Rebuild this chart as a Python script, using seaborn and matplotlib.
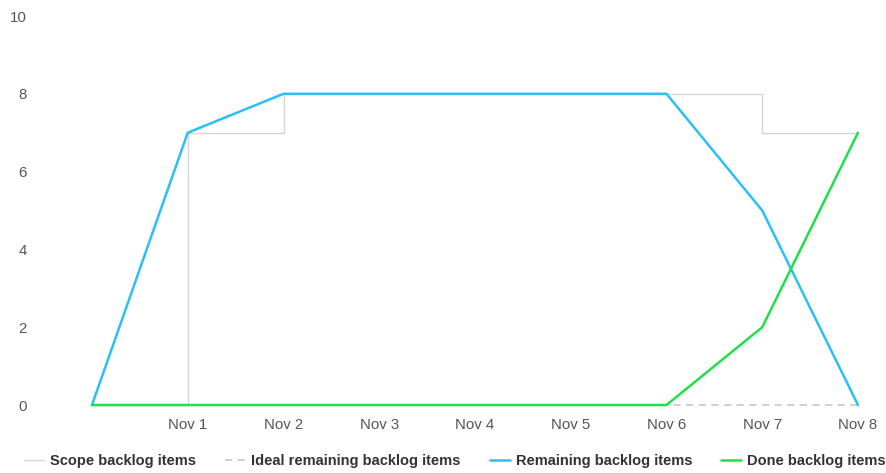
import pandas as pd
import numpy as np
import seaborn as sns
import matplotlib.pyplot as plt

# dados do burndown
days = ["", "Nov 1", "Nov 2", "Nov 3", "Nov 4", "Nov 5", "Nov 6", "Nov 7", "Nov 8"]
scope = [0, 7, 8, 8, 8, 8, 8, 7, 7]
ideal = [0, 0, 0, 0, 0, 0, 0, 0, 0]
remaining = [0, 7, 8, 8, 8, 8, 8, 5, 0]
done = [0, 0, 0, 0, 0, 0, 0, 2, 7]

sns.set_style("white")
plt.rcParams['font.family'] = ['Liberation Sans', 'DejaVu Sans']

df = pd.DataFrame({
    'x': np.arange(len(days)),
    'scope': scope,
    'ideal': ideal,
    'remaining': remaining,
    'done': done,
})

fig = plt.figure(figsize=(8.86, 4.73), dpi=100)
ax = fig.add_axes([92 / 886, 68 / 473, 766 / 886, 389 / 473])

sns.lineplot(data=df, x='x', y='scope', ax=ax, color='#d6d6d6', linewidth=1.0,
             drawstyle='steps-post', label='Scope backlog items', clip_on=False)
sns.lineplot(data=df, x='x', y='ideal', ax=ax, color='#cccccc', linewidth=1.3,
             linestyle=(0, (4, 3)), label='Ideal remaining backlog items', clip_on=False)
sns.lineplot(data=df, x='x', y='remaining', ax=ax, color='#2bc0f5', linewidth=1.8,
             label='Remaining backlog items', clip_on=False)
sns.lineplot(data=df, x='x', y='done', ax=ax, color='#1ee04a', linewidth=1.8,
             label='Done backlog items', clip_on=False)

ax.set_xlim(0, 8)
ax.set_ylim(0, 10)
ax.set_xticks(range(1, len(days)))
ax.set_xticklabels(days[1:])
ax.set_yticks([0, 2, 4, 6, 8, 10])
ax.tick_params(axis='both', length=0, labelsize=10.8, labelcolor='#555555')
ax.tick_params(axis='y', pad=47)
ax.tick_params(axis='x', pad=9)
ax.set_xlabel('')
ax.set_ylabel('')
sns.despine(ax=ax, left=True, bottom=True)

handles, labels = ax.get_legend_handles_labels()
ax.get_legend().remove()
fig.legend(handles, labels, loc='center', bbox_to_anchor=(455 / 886, 12 / 473), ncol=4,
           frameon=False, handlelength=1.37, columnspacing=2.0, handletextpad=0.41,
           prop={'weight': 'bold', 'size': 10.5}, labelcolor='#333333')

fig.savefig('out.png', dpi=100)
